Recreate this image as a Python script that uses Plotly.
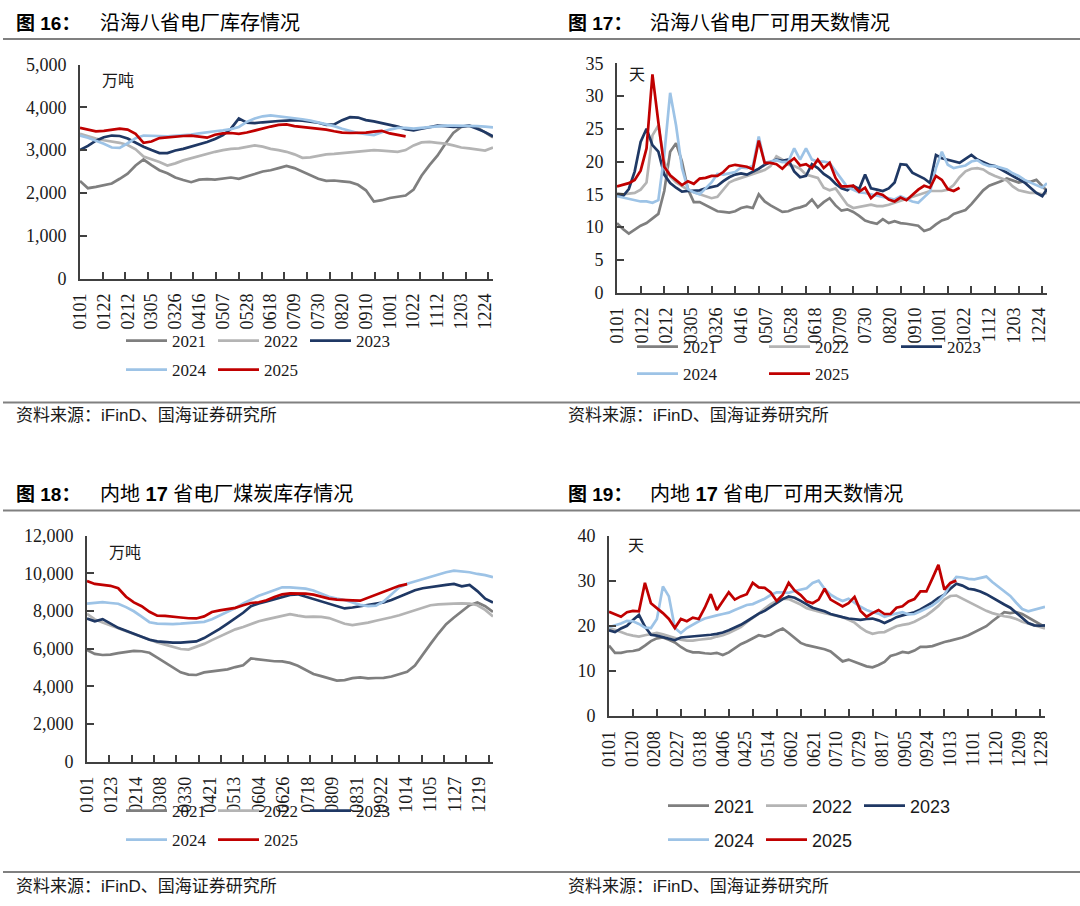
import datetime as dt
import plotly.graph_objects as go

W, H = 1080, 906
YEARS = ["2021", "2022", "2023", "2024", "2025"]
COLORS = ["#7F7F7F", "#B4B4B4", "#1F3864", "#9DC3E6", "#C00000"]

# sampling grids (day of year)
WEEK_DAYS = list(range(0, 365, 7))
FIVE_DAYS = list(range(0, 361, 5)) + [364]

# ---------- 图16 沿海八省电厂库存 (万吨), weekly ----------
C16_2021 = [2280,2110,2140,2180,2220,2330,2450,2640,2780,2650,2530,2460,2360,2300,2250,2310,2320,2310,2340,2360,2330,2380,2440,2500,2530,2580,2630,2580,2500,2420,2330,2280,2290,2270,2250,2190,2060,1800,1830,1880,1910,1940,2080,2400,2650,2870,3150,3400,3540,3570,3530,3420,3300]
C16_2022 = [3380,3320,3270,3230,3200,3170,3120,3020,2850,2790,2720,2640,2690,2760,2810,2870,2920,2960,3000,3030,3040,3080,3110,3080,3030,3000,2960,2900,2820,2830,2870,2900,2910,2930,2950,2960,2980,3000,2990,2980,2960,3000,3110,3180,3190,3170,3150,3110,3060,3040,3020,2990,3060]
C16_2023 = [3000,3100,3220,3300,3340,3330,3270,3170,3080,3000,2930,2930,2990,3030,3080,3130,3190,3260,3350,3500,3740,3640,3630,3650,3670,3680,3690,3700,3690,3670,3640,3590,3600,3700,3770,3760,3700,3670,3630,3600,3550,3490,3460,3500,3540,3570,3560,3540,3550,3570,3500,3420,3320]
C16_2024 = [3340,3290,3220,3150,3060,3050,3160,3280,3340,3340,3330,3320,3330,3340,3360,3390,3420,3440,3460,3490,3540,3660,3740,3790,3810,3790,3770,3740,3720,3690,3650,3600,3560,3500,3450,3400,3370,3350,3420,3480,3520,3520,3500,3520,3540,3560,3570,3570,3570,3570,3560,3550,3530]
C16_2025 = [3520,3480,3440,3450,3480,3500,3480,3380,3170,3200,3280,3300,3320,3330,3340,3320,3290,3360,3390,3400,3380,3410,3460,3510,3550,3590,3600,3560,3540,3530,3510,3480,3440,3410,3400,3400,3410,3430,3450,3390,3350,3320]

# ---------- 图17 沿海八省电厂可用天数 (天), every 5 days ----------
C17_2021 = [10.6,9.7,9.0,9.6,10.2,10.6,11.3,12.0,15.5,21.5,22.8,20.0,15.8,13.8,13.8,13.3,12.8,12.4,12.3,12.2,12.4,12.9,13.1,12.9,15.0,13.9,13.3,12.8,12.3,12.4,12.8,13.0,13.3,14.2,13.0,13.8,14.4,13.3,12.5,12.7,12.3,11.7,11.0,10.7,10.5,11.2,10.6,10.9,10.6,10.5,10.4,10.2,9.4,9.7,10.4,11.0,11.3,12.0,12.3,12.6,13.5,14.5,15.6,16.3,16.6,17.0,17.4,17.1,16.8,17.0,16.9,17.2,16.3,15.5]
C17_2022 = [15.2,15.0,15.1,15.2,15.7,16.8,24.0,25.5,20.0,17.7,16.8,16.2,15.7,15.3,15.0,14.7,14.4,14.6,15.7,16.8,17.2,17.5,17.7,18.0,18.3,18.7,19.3,20.8,20.3,19.5,19.3,18.9,18.0,17.8,17.5,16.0,15.6,15.9,14.6,13.4,12.9,13.1,13.3,13.4,13.2,13.2,13.4,13.7,14.1,14.4,14.6,14.9,15.2,15.5,15.5,15.5,15.7,16.4,17.6,18.5,18.9,19.0,18.8,18.2,17.8,17.5,17.1,16.2,15.6,15.4,15.2,15.2,15.0,15.2]
C17_2023 = [15.0,14.7,15.8,18.5,23.0,25.0,22.5,21.5,18.0,16.7,16.0,15.4,15.5,15.5,15.6,15.9,16.1,16.3,17.0,17.6,18.0,18.2,18.0,18.4,18.9,19.5,19.9,20.3,20.1,20.3,18.5,17.6,17.8,19.6,19.0,18.1,17.5,16.6,15.9,15.6,16.3,15.8,18.0,15.9,15.7,15.5,15.9,16.8,19.6,19.5,18.3,17.8,17.4,16.7,21.0,20.5,20.3,20.0,19.8,20.4,21.0,20.3,19.9,19.5,19.3,18.8,18.2,17.7,17.3,16.8,16.0,15.2,14.7,15.8]
C17_2024 = [14.7,14.5,14.3,14.1,13.9,13.9,13.7,14.1,21.0,30.5,25.5,19.0,15.8,15.3,15.0,15.9,16.8,18.1,18.0,18.2,18.4,19.1,19.0,19.3,23.8,19.8,20.0,20.2,19.9,20.0,22.0,20.3,22.0,20.3,20.0,20.0,19.8,18.6,17.3,16.1,15.7,15.3,15.2,15.0,14.8,14.6,14.4,14.2,14.7,14.3,13.9,13.7,14.6,15.4,19.0,21.5,19.5,19.0,19.2,19.4,20.0,20.2,19.6,19.3,19.3,19.0,18.8,18.2,17.8,17.2,16.8,16.3,16.0,16.7]
C17_2025 = [16.2,16.5,16.7,17.2,18.6,22.0,33.3,26.0,19.2,17.9,17.2,16.4,17.0,16.6,17.4,17.5,17.8,17.8,18.4,19.3,19.5,19.4,19.2,18.8,23.2,19.8,19.8,19.6,18.9,19.8,20.5,19.4,19.6,19.0,20.3,19.0,19.8,17.5,16.2,16.2,16.3,15.4,16.0,14.4,15.2,14.9,14.2,13.9,14.5,14.1,14.9,15.7,16.3,16.0,17.8,17.2,15.8,15.5,16.0]

# ---------- 图18 内地17省电厂煤炭库存 (万吨), weekly ----------
C18_2021 = [5930,5720,5660,5680,5760,5840,5880,5860,5780,5520,5250,4980,4740,4620,4600,4740,4800,4860,4900,5020,5120,5480,5420,5380,5330,5320,5240,5090,4860,4650,4540,4420,4300,4330,4430,4470,4420,4440,4450,4520,4650,4770,5100,5700,6250,6800,7300,7650,7960,8300,8450,8250,7950]
C18_2022 = [7850,7550,7380,7220,7080,6930,6780,6630,6470,6330,6210,6100,5980,5950,6080,6250,6450,6650,6850,7020,7150,7320,7450,7550,7650,7720,7830,7750,7680,7700,7680,7620,7480,7320,7250,7300,7380,7480,7560,7660,7770,7900,8050,8200,8300,8350,8390,8390,8400,8390,8300,8050,7700]
C18_2023 = [7600,7450,7560,7350,7100,6950,6800,6620,6470,6380,6330,6320,6320,6330,6380,6560,6800,7050,7330,7630,7900,8250,8400,8500,8620,8740,8850,8880,8760,8650,8530,8400,8250,8130,8180,8250,8300,8370,8450,8580,8750,8950,9100,9200,9270,9330,9380,9430,9300,9380,9050,8650,8450]
C18_2024 = [8390,8440,8460,8420,8380,8200,7980,7700,7400,7330,7310,7300,7320,7360,7380,7420,7560,7760,7950,8150,8400,8600,8800,8950,9100,9250,9250,9230,9180,9080,8900,8750,8650,8580,8450,8320,8250,8280,8500,8900,9250,9440,9560,9700,9800,9950,10050,10140,10100,10050,9960,9900,9790]
C18_2025 = [9580,9430,9380,9330,9200,8750,8450,8250,7950,7750,7740,7680,7650,7610,7600,7710,7940,8030,8100,8160,8300,8420,8460,8560,8740,8880,8930,8940,8920,8860,8740,8650,8600,8560,8560,8540,8700,8850,9000,9150,9330,9420]

# ---------- 图19 内地17省电厂可用天数 (天), every 5 days ----------
C19_2021 = [15.6,14.0,14.0,14.3,14.4,14.7,15.6,16.6,17.2,17.4,16.9,16.3,15.3,14.5,14.1,14.1,13.9,13.8,14.0,13.5,14.1,15.1,15.9,16.5,17.2,17.9,17.6,18.0,18.8,19.4,18.4,17.3,16.2,15.7,15.4,15.1,14.8,14.3,13.3,12.1,12.5,12.0,11.6,11.0,10.8,11.3,12.0,13.3,13.7,14.2,14.0,14.5,15.3,15.3,15.5,16.0,16.4,16.7,17.0,17.4,17.9,18.6,19.2,19.9,21.0,22.0,23.0,22.8,23.0,22.6,21.8,21.0,20.2,19.7]
C19_2022 = [19.4,19.1,18.6,18.1,17.8,17.6,17.9,18.2,18.4,18.1,17.7,17.3,16.9,16.7,16.7,16.9,17.0,17.2,17.6,17.9,18.4,19.0,19.7,20.8,21.7,22.7,23.8,24.8,25.5,26.0,25.9,25.3,24.7,23.9,23.5,23.1,22.8,22.5,22.2,21.9,21.3,20.7,19.6,18.7,18.2,18.5,18.6,19.2,19.9,20.2,20.4,20.9,21.6,22.3,23.3,24.4,25.8,26.6,26.7,26.0,25.3,24.6,23.9,23.3,22.8,22.4,22.1,21.9,21.5,20.9,20.5,20.2,19.8,19.4]
C19_2023 = [19.0,18.6,19.4,20.0,21.3,22.4,19.8,18.0,17.8,17.5,17.2,16.8,17.4,17.5,17.6,17.8,17.9,18.0,18.2,18.5,19.0,19.6,20.2,21.0,21.9,22.7,23.3,24.2,24.9,25.9,26.5,26.2,25.5,24.7,24.0,23.6,23.2,22.6,22.2,21.9,21.6,21.5,21.3,21.5,21.6,21.2,20.6,21.2,21.9,22.3,22.6,23.0,23.6,24.4,25.2,26.2,26.9,28.2,29.3,28.9,28.2,28.0,27.6,27.0,26.2,25.5,24.7,24.0,22.9,21.6,20.6,20.1,20.0,20.1]
C19_2024 = [19.7,20.1,20.5,21.1,21.0,20.4,19.6,19.5,21.5,28.7,26.5,19.5,18.4,19.5,20.3,21.0,21.6,22.0,22.3,22.6,22.9,23.5,24.1,24.6,24.8,25.4,26.0,26.8,27.4,27.4,27.3,27.7,28.0,28.3,29.5,30.0,28.2,26.9,26.1,25.5,26.0,25.0,24.2,23.5,23.0,22.7,22.0,22.4,22.7,23.0,22.5,22.6,23.2,23.8,24.5,25.5,26.9,29.2,30.8,30.7,30.4,30.3,30.6,30.9,29.7,28.7,27.7,26.6,25.1,23.7,23.2,23.6,24.0,24.2]
C19_2025 = [23.1,22.5,22.0,23.0,23.3,23.2,29.5,25.0,24.0,22.8,21.5,19.5,21.5,21.0,21.8,21.5,24.0,27.0,23.5,25.5,27.4,25.8,26.5,27.0,29.5,28.5,28.4,27.4,25.5,26.8,29.5,27.8,26.8,25.4,25.0,25.8,28.2,25.8,25.0,24.3,25.0,26.4,23.3,22.0,22.8,23.5,22.6,22.6,24.0,24.3,25.4,25.9,27.6,27.6,30.5,33.5,28.0,29.5,30.0]

# tick labels (MMDD)
TICKS_16 = ["0101","0122","0212","0305","0326","0416","0507","0528","0618","0709","0730","0820","0910","1001","1022","1112","1203","1224"]
TICKS_17 = TICKS_16
TICKS_18 = ["0101","0123","0214","0308","0330","0421","0513","0604","0626","0718","0809","0831","0922","1014","1105","1127","1219"]
TICKS_19 = ["0101","0120","0208","0227","0318","0406","0425","0514","0602","0621","0710","0729","0817","0905","0924","1013","1101","1120","1209","1228"]
MINOR_TICK_DAYS = list(range(20, 365, 20))


def doy(mmdd):
    return (dt.date(2021, int(mmdd[:2]), int(mmdd[2:])) - dt.date(2021, 1, 1)).days


def fx(px):
    return px / W


def fy(py):
    return 1 - py / H


SERIF = "Liberation Serif, Times New Roman, DejaVu Serif, serif"
SANS = "Liberation Sans, Arial, sans-serif"
CJK = "Noto Sans CJK SC"
AX_COLOR = "#404040"

panels = [
    dict(title="沿海八省电厂库存情况", num="16", tx=14, ty=23, bx=98,
         x=(80, 493), y=(64.5, 278.5), yr=5000, dy=1000, fmt=",d",
         days=WEEK_DAYS, data=[C16_2021, C16_2022, C16_2023, C16_2024, C16_2025],
         ticks=TICKS_16, unit="万吨", ux=100, uy=79,
         leg_x=121, leg_y=(341, 370), ew=36, lfont=SERIF, lsize=17),
    dict(title="沿海八省电厂可用天数情况", num="17", tx=566, ty=23, bx=648,
         x=(617, 1047), y=(63.3, 292.5), yr=35, dy=5, fmt="d",
         days=FIVE_DAYS, data=[C17_2021, C17_2022, C17_2023, C17_2024, C17_2025],
         ticks=TICKS_17, unit="天", ux=627, uy=73,
         leg_x=632, leg_y=(347, 374), ew=76, lfont=SERIF, lsize=17),
    dict(title="内地 <b>17</b> 省电厂煤炭库存情况", num="18", tx=14, ty=494, bx=98,
         x=(87, 493), y=(535.5, 761.7), yr=12000, dy=2000, fmt=",d",
         days=WEEK_DAYS, data=[C18_2021, C18_2022, C18_2023, C18_2024, C18_2025],
         ticks=TICKS_18, unit="万吨", ux=107, uy=551,
         leg_x=121, leg_y=(811, 840), ew=36, lfont=SERIF, lsize=17),
    dict(title="内地 <b>17</b> 省电厂可用天数情况", num="19", tx=566, ty=494, bx=648,
         x=(609, 1045), y=(535.5, 716), yr=40, dy=10, fmt="d",
         days=FIVE_DAYS, data=[C19_2021, C19_2022, C19_2023, C19_2024, C19_2025],
         ticks=TICKS_19, unit="天", ux=626, uy=544,
         leg_x=663, leg_y=(806, 840), ew=42, lfont=SANS, lsize=18),
]

fig = go.Figure()
layout = dict(width=W, height=H, margin=dict(l=0, r=0, t=0, b=0, pad=0, autoexpand=False),
              autosize=False, paper_bgcolor="white", plot_bgcolor="white", showlegend=True,
              annotations=[], shapes=[])

for i, p in enumerate(panels):
    k = "" if i == 0 else str(i + 1)
    xa, ya = "x" + k, "y" + k
    legA = "legend" if i == 0 else "legend" + str(2 * i + 1)
    legB = "legend" + str(2 * i + 2)
    for j, (yr, col, vals) in enumerate(zip(YEARS, COLORS, p["data"])):
        fig.add_trace(go.Scatter(
            x=p["days"][:len(vals)], y=vals, mode="lines", name=yr,
            line=dict(color=col, width=2.7), xaxis=xa, yaxis=ya,
            legend=legA if j < 3 else legB, hoverinfo="skip"))
    layout["xaxis" + k] = dict(
        domain=[fx(p["x"][0]), fx(p["x"][1])], anchor=ya, range=[0, 364],
        showline=True, linecolor=AX_COLOR, linewidth=1.6, showgrid=False, zeroline=False,
        tickmode="array", tickvals=[doy(t) for t in p["ticks"]], ticktext=p["ticks"],
        ticks="", tickangle=-90, ticklabelstandoff=6, automargin=False,
        tickfont=dict(family=SERIF, size=18, color="#1a1a1a"),
        minor=dict(ticks="inside", ticklen=7, tickwidth=1.6, tickcolor=AX_COLOR,
                   tickmode="array", tickvals=MINOR_TICK_DAYS, showgrid=False),
        fixedrange=True)
    layout["yaxis" + k] = dict(
        domain=[fy(p["y"][1]), fy(p["y"][0])], anchor=xa, range=[0, p["yr"]],
        showline=True, linecolor=AX_COLOR, linewidth=1.6, showgrid=False, zeroline=False,
        tickmode="linear", tick0=0, dtick=p["dy"], tickformat=p["fmt"], automargin=False,
        ticks="inside", ticklen=7, tickwidth=1.6, tickcolor=AX_COLOR, ticklabelstandoff=8,
        tickfont=dict(family=SERIF, size=18, color="#1a1a1a"), fixedrange=True)
    for leg, ly in ((legA, p["leg_y"][0]), (legB, p["leg_y"][1])):
        layout[leg] = dict(orientation="h", x=fx(p["leg_x"]), y=fy(ly),
                           xanchor="left", yanchor="middle", itemwidth=41,
                           entrywidth=p["ew"], entrywidthmode="pixels",
                           font=dict(family=p["lfont"], size=p["lsize"], color="#1a1a1a"),
                           bgcolor="rgba(0,0,0,0)", borderwidth=0, traceorder="normal")
    # title
    layout["annotations"].append(dict(
        text="<b>图 " + p["num"] + "：</b>", x=fx(p["tx"]), y=fy(p["ty"]), xref="paper", yref="paper",
        xanchor="left", yanchor="middle", showarrow=False,
        font=dict(family="Liberation Sans, " + CJK, size=19, color="#000")))
    layout["annotations"].append(dict(
        text=p["title"], x=fx(p["bx"]), y=fy(p["ty"]), xref="paper", yref="paper",
        xanchor="left", yanchor="middle", showarrow=False,
        font=dict(family="Liberation Sans, " + CJK, size=20, color="#000")))
    # unit
    layout["annotations"].append(dict(
        text=p["unit"], x=fx(p["ux"]), y=fy(p["uy"]), xref="paper", yref="paper",
        xanchor="left", yanchor="middle", showarrow=False,
        font=dict(family=CJK, size=16, color="#1a1a1a")))

# source notes and separator lines
for sx, sy in ((14, 415), (566, 415), (14, 886), (566, 886)):
    layout["annotations"].append(dict(
        text="资料来源：iFinD、国海证券研究所", x=fx(sx), y=fy(sy), xref="paper", yref="paper",
        xanchor="left", yanchor="middle", showarrow=False,
        font=dict(family="Liberation Sans, " + CJK, size=17, color="#1a1a1a")))
for ly in (39, 402.5, 510.5, 872):
    layout["shapes"].append(dict(type="line", xref="paper", yref="paper",
                                 x0=fx(3), x1=fx(1080), y0=fy(ly), y1=fy(ly),
                                 line=dict(color="#808080", width=2)))

fig.update_layout(**layout)
fig.write_html("out.html", config={"displayModeBar": False, "responsive": False},
               post_script="document.body.style.margin='0';document.body.style.overflow='hidden';")
